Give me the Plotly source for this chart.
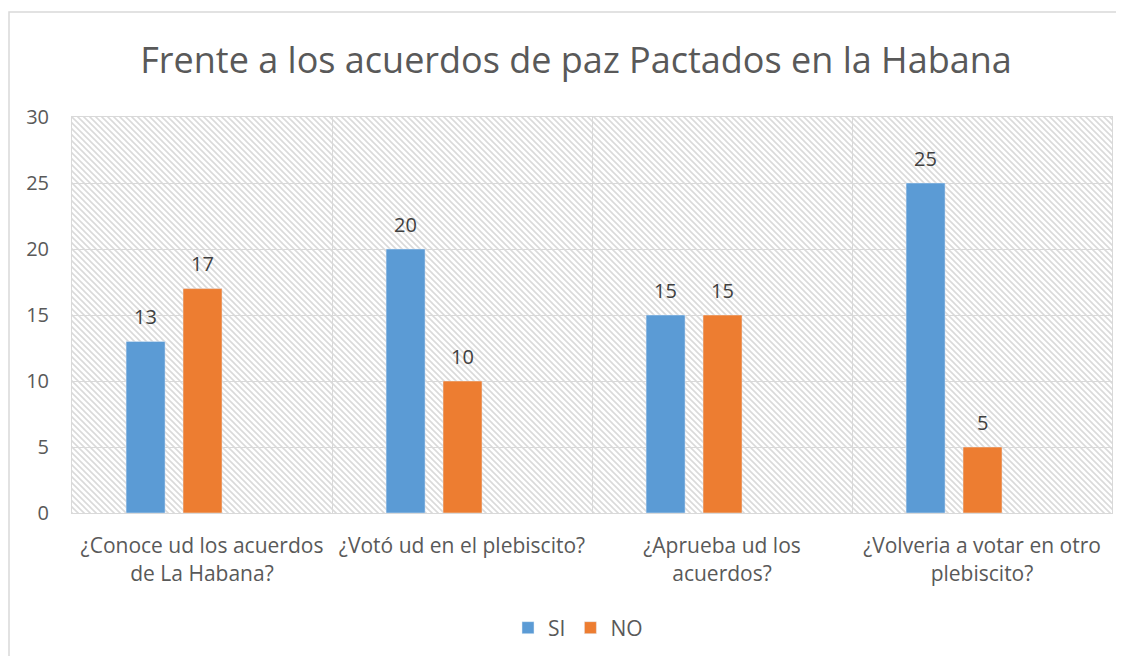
import base64
import plotly.graph_objects as go

categories = [
    "¿Conoce ud los acuerdos<br>de La Habana?",
    "¿Votó ud en el plebiscito?",
    "¿Aprueba ud los<br>acuerdos?",
    "¿Volveria a votar en otro<br>plebiscito?",
]
si_values = [13, 20, 15, 25]
no_values = [17, 10, 15, 5]
y_ticks = [0, 5, 10, 15, 20, 25, 30]
title_text = "Frente a los acuerdos de paz Pactados en la Habana"

# page body has an 8px margin; compensate so the plot lands where intended
OFF = 8
W, H = 1124, 656
ML, MT = 72 - OFF, 117 - OFF
MR = W - (1112 - OFF)
MB = H - (513 - OFF)
PW, PH = W - ML - MR, H - MT - MB

FONT = "'Open Sans', Lato, sans-serif"
GREY = "#595959"

# hatched background for plot area
svg = (
    f"<svg xmlns='http://www.w3.org/2000/svg' width='{PW}' height='{PH}'>"
    "<defs><pattern id='p' width='6' height='6' patternUnits='userSpaceOnUse'>"
    "<path d='M-1,-1 L7,7 M-1,5 L1,7 M5,-1 L7,1' stroke='#dadada' stroke-width='1.6'/>"
    "</pattern></defs>"
    "<rect width='100%' height='100%' fill='white'/>"
    "<rect width='100%' height='100%' fill='url(#p)'/></svg>"
)
svg_uri = "data:image/svg+xml;base64," + base64.b64encode(svg.encode()).decode()

BAR_W = 0.15
SERIES = [
    dict(name="SI", values=si_values, color="#5B9BD5", offset=-0.292),
    dict(name="NO", values=no_values, color="#ED7D31", offset=-0.073),
]
CAT_PX = PW / len(categories)

fig = go.Figure()
annotations = []
for s in SERIES:
    fig.add_trace(go.Bar(
        name=s["name"], x=categories, y=s["values"],
        marker_color=s["color"], width=BAR_W, offset=s["offset"],
        hoverinfo="x+y+name",
    ))
    shift = (s["offset"] + BAR_W / 2) * CAT_PX
    for cat, val in zip(categories, s["values"]):
        annotations.append(dict(
            x=cat, y=val, xref="x", yref="y", text=str(val),
            showarrow=False, xshift=shift, yshift=25,
            xanchor="center", yanchor="middle",
            font=dict(size=20, color="#404040", family=FONT),
        ))

fig.update_layout(
    width=W, height=H,
    margin=dict(l=ML, r=MR, t=MT, b=MB, autoexpand=False),
    paper_bgcolor="white",
    plot_bgcolor="rgba(0,0,0,0)",
    barmode="overlay",
    font=dict(family=FONT, color=GREY, size=20),
    title=dict(
        text=title_text, x=(576 - OFF - ML) / PW, xref="paper", xanchor="center",
        y=1 - (60 - OFF) / H, yanchor="middle",
        font=dict(size=36, color=GREY, family=FONT),
    ),
    legend=dict(
        orientation="h", x=(578 - 1112 + PW) / PW, xanchor="center",
        y=-(628 - 513) / PH, yanchor="middle",
        font=dict(size=21, color=GREY, family=FONT),
        traceorder="normal",
    ),
    annotations=annotations,
    images=[dict(
        source=svg_uri, xref="paper", yref="paper",
        x=0, y=1, sizex=1, sizey=1, xanchor="left", yanchor="top",
        sizing="stretch", layer="below",
    )],
    shapes=[dict(
        type="rect", xref="paper", yref="paper",
        x0=(9 - OFF - ML) / PW, x1=1.2,
        y0=-0.6, y1=1 + (MT - (12 - OFF)) / PH,
        line=dict(color="#d9d9d9", width=1.5),
        fillcolor="rgba(0,0,0,0)", layer="below",
    )],
)

fig.update_xaxes(
    tickson="boundaries", showgrid=True, gridcolor="#d9d9d9", gridwidth=1,
    ticks="", showline=True, linecolor="#d9d9d9", linewidth=1, mirror=True,
    tickfont=dict(size=21, color=GREY, family=FONT),
    ticklabelstandoff=14,
)
fig.update_yaxes(
    range=[0, 30], tickvals=y_ticks, showgrid=True, gridcolor="#d9d9d9",
    gridwidth=1, zeroline=False, showline=True, linecolor="#d9d9d9",
    mirror=True, ticks="outside", tickcolor="rgba(0,0,0,0)", ticklen=18,
    tickfont=dict(size=20, color=GREY, family=FONT),
)

fig.write_html("out.html")
